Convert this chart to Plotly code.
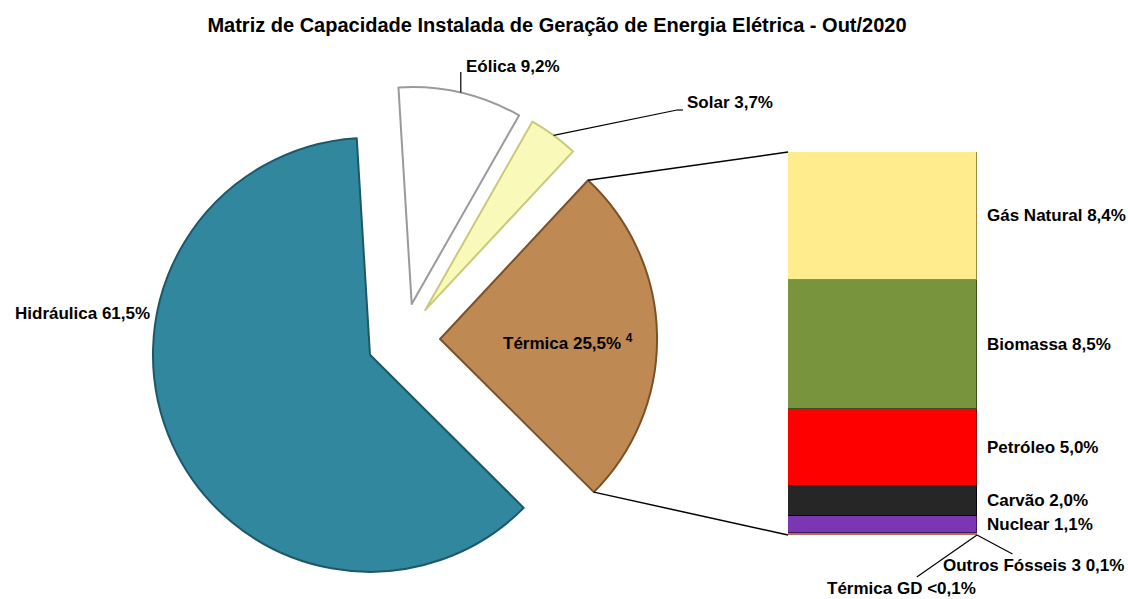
import math
import plotly.graph_objects as go

W, H = 1128, 599
FONT = "Liberation Sans, Arial, sans-serif"
LBL = 17

# ---------------- data ----------------
pie_labels = ["Eólica", "Solar", "Térmica", "Hidráulica"]
pie_values = [9.2, 3.7, 25.5, 61.5]
pie_pct_text = ["9,2%", "3,7%", "25,5%", "61,5%"]
pie_colors = ["#FFFFFF", "#F9F9B9", "#BF8953", "#31879E"]
pie_edge = ["#9A9A9A", "#C9C97C", "#7A5128", "#1D5868"]

bar_labels = ["Térmica GD", "Outros Fósseis 3", "Nuclear", "Carvão", "Petróleo", "Biomassa", "Gás Natural"]
bar_values = [0.05, 0.1, 1.1, 2.0, 5.0, 8.5, 8.4]
bar_pct_text = ["<0,1%", "0,1%", "1,1%", "2,0%", "5,0%", "8,5%", "8,4%"]
bar_colors = ["#F2B48A", "#F6C8A0", "#7B36B4", "#262626", "#FF0000", "#78953E", "#FFEC8C"]
bar_edge = ["#B07050", "#B07050", "#3E1660", "#000000", "#8A0000", "#3E5020", "#A08A40"]

title_text = "Matriz de Capacidade Instalada de Geração de Energia Elétrica - Out/2020"

# ---------------- layout geometry (pixels) ----------------
PIE_CX, PIE_CY, PIE_R = 403.4, 339.7, 217.0
PULL = 0.169
ROT = -3.5
BAR_X0, BAR_X1, BAR_Y0, BAR_Y1 = 788, 977, 152, 535


def px(x):
    return x / W


def py(y):
    return 1 - y / H


half = PIE_R * (1 + PULL)
pie_domain = dict(x=[px(PIE_CX - half), px(PIE_CX + half)],
                  y=[py(PIE_CY + half), py(PIE_CY - half)])

# slice geometry (clockwise from 12 o'clock)
tot = sum(pie_values)
angles = []
a = ROT
for v in pie_values:
    a0, a1 = a, a + 360 * v / tot
    angles.append((a0, a1))
    a = a1


def apex(i):
    mid = math.radians(sum(angles[i]) / 2)
    d = PULL * PIE_R
    return PIE_CX + d * math.sin(mid), PIE_CY - d * math.cos(mid)


def arc_pt(i, ang_deg, r=PIE_R):
    ax, ay = apex(i)
    t = math.radians(ang_deg)
    return ax + r * math.sin(t), ay - r * math.cos(t)


fig = go.Figure()

fig.add_trace(go.Pie(
    labels=pie_labels, values=pie_values, sort=False, direction="clockwise",
    rotation=ROT, pull=[PULL] * len(pie_values),
    marker=dict(colors=pie_colors, line=dict(color=pie_edge, width=2)),
    textinfo="none", hoverinfo="label+percent", domain=pie_domain,
    showlegend=False,
))

for lab, v, c, e in zip(bar_labels, bar_values, bar_colors, bar_edge):
    fig.add_trace(go.Bar(
        x=["Térmica"], y=[v], name=lab, marker=dict(color=c, line=dict(color=e, width=1.5)),
        width=1, showlegend=False, hovertemplate=lab + ": %{y}%<extra></extra>",
    ))

bar_total = sum(bar_values)
fig.update_layout(
    width=W, height=H, barmode="stack", bargap=0,
    margin=dict(l=0, r=0, t=0, b=0),
    paper_bgcolor="white", plot_bgcolor="rgba(0,0,0,0)",
    font=dict(family=FONT, size=LBL, color="black"),
    xaxis=dict(domain=[px(BAR_X0), px(BAR_X1)], range=[-0.5, 0.5], visible=False, fixedrange=True),
    yaxis=dict(domain=[py(BAR_Y1), py(BAR_Y0)], range=[0, bar_total], visible=False, fixedrange=True),
    title=dict(text="<b>" + title_text + "</b>", x=px(557), y=py(25), xanchor="center",
               yanchor="middle", font=dict(family=FONT, size=20, color="black")),
)

shapes = []
ann = []

# connector lines Térmica -> bar
it = pie_labels.index("Térmica")
t_top = arc_pt(it, angles[it][0])
t_bot = arc_pt(it, angles[it][1])
for (x0, y0), (x1, y1) in [(t_top, (BAR_X0, BAR_Y0)), (t_bot, (BAR_X0, BAR_Y1))]:
    shapes.append(dict(type="line", xref="paper", yref="paper", x0=px(x0), y0=py(y0),
                       x1=px(x1), y1=py(y1), line=dict(color="black", width=1.5)))

# Eólica label with vertical leader
ie = pie_labels.index("Eólica")
ex, ey = arc_pt(ie, sum(angles[ie]) / 2)
shapes.append(dict(type="line", xref="paper", yref="paper", x0=px(ex), y0=py(ey),
                   x1=px(ex), y1=py(72), line=dict(color="black", width=1.2)))
ann.append(dict(text="<b>Eólica " + pie_pct_text[ie] + "</b>", x=px(ex + 3), y=py(66),
                xanchor="left", yanchor="middle"))

# Solar label with leader
iso = pie_labels.index("Solar")
sx, sy = arc_pt(iso, sum(angles[iso]) / 2)
shapes.append(dict(type="line", xref="paper", yref="paper", x0=px(sx), y0=py(sy),
                   x1=px(677), y1=py(110), line=dict(color="black", width=1.2)))
shapes.append(dict(type="line", xref="paper", yref="paper", x0=px(677), y0=py(110),
                   x1=px(683), y1=py(110), line=dict(color="black", width=1.2)))
ann.append(dict(text="<b>Solar " + pie_pct_text[iso] + "</b>", x=px(685), y=py(103),
                xanchor="left", yanchor="middle"))

# Hidráulica label
ih = pie_labels.index("Hidráulica")
ann.append(dict(text="<b>Hidráulica " + pie_pct_text[ih] + "</b>", x=px(152), y=py(313),
                xanchor="right", yanchor="middle"))

# Térmica label inside
ann.append(dict(text="<b>Térmica " + pie_pct_text[it] + " <sup>4</sup></b>", x=px(568), y=py(342),
                xanchor="center", yanchor="middle"))

# bar labels
cum = 0
for i, (lab, v, t) in enumerate(zip(bar_labels, bar_values, bar_pct_text)):
    mid = cum + v / 2
    if lab == "Térmica GD":
        ann.append(dict(text="<b>" + lab + " " + t + "</b>", xref="paper", yref="y",
                        x=px(BAR_X1), y=0, showarrow=True, arrowhead=0, arrowwidth=1.2,
                        arrowcolor="black", ax=-76, ay=53, xanchor="center", yanchor="middle"))
    elif lab.startswith("Outros"):
        ann.append(dict(text="<b>" + lab + " " + t + "</b>", xref="paper", yref="y",
                        x=px(BAR_X1), y=0, showarrow=True, arrowhead=0, arrowwidth=1.2,
                        arrowcolor="black", ax=56, ay=30, xanchor="center", yanchor="middle"))
    else:
        ann.append(dict(text="<b>" + lab + " " + t + "</b>", xref="paper", yref="y",
                        x=px(BAR_X1 + 8), y=mid, xanchor="left", yanchor="middle"))
    cum += v

for a_ in ann:
    a_.setdefault("xref", "paper")
    a_.setdefault("yref", "paper")
    a_.setdefault("showarrow", False)
    a_["font"] = dict(family=FONT, size=LBL, color="black")

fig.update_layout(shapes=shapes, annotations=ann)
fig.write_html("out.html", config={"displayModeBar": False},
               post_script="document.body.style.margin='0';")
